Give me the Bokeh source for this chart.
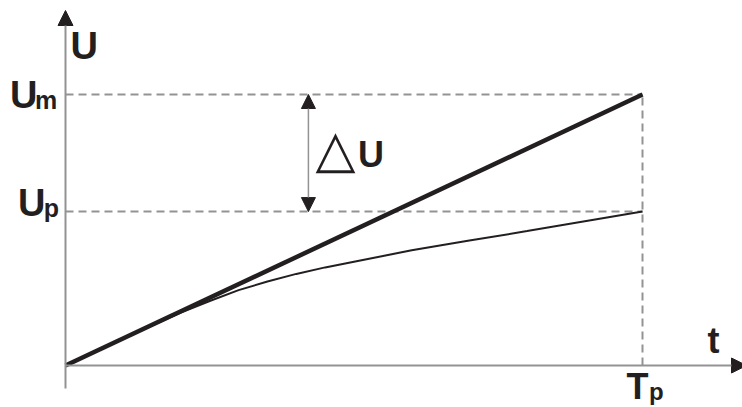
from bokeh.plotting import figure
from bokeh.models import Range1d, Arrow, NormalHead
from bokeh.core.properties import value
from bokeh.embed import file_html
from bokeh.resources import INLINE

# ---- data (arbitrary units: Tp = 10, Um = 10) ----
Tp = 10.0
Um = 10.0
Up = 5.68
t_line = [0.0, Tp]
u_line = [0.0, Um]
t_curve = [0, 1, 2, 2.5, 3, 3.5, 4, 4.5, 5, 6, 7, 8, 9, 10]
u_curve = [0, 1.0, 1.95, 2.38, 2.78, 3.10, 3.38, 3.62, 3.83, 4.25, 4.61, 4.96, 5.32, 5.68]
t_delta = 4.21  # position of the Delta U arrow

# ---- layout (screen mapping) ----
W, H = 742, 407
SX = 57.7   # px per t unit
SY = 27.1   # px per U unit
X0, Y0 = 65, 365  # canvas px of origin
x_range = Range1d(-X0 / SX, (W - X0) / SX)
y_range = Range1d(-(H - Y0) / SY, Y0 / SY)

INK = "#231f20"
GRAY = "#939393"
FONT = value("Liberation Sans")

p = figure(width=W, height=H, x_range=x_range, y_range=y_range,
           output_backend="svg", toolbar_location=None, min_border=0,
           x_axis_location=None, y_axis_location=None)
p.grid.visible = False
p.outline_line_color = None
p.background_fill_color = "white"

# axes with arrows
p.add_layout(Arrow(x_start=0, y_start=-23 / SY, x_end=0, y_end=(Y0 - 10) / SY,
                   line_color=GRAY, line_width=2,
                   end=NormalHead(size=15, fill_color=INK, line_color=INK, line_width=1)))
p.add_layout(Arrow(x_start=0, y_start=0, x_end=(W - X0 + 4) / SX, y_end=0,
                   line_color=GRAY, line_width=2,
                   end=NormalHead(size=15, fill_color=INK, line_color=INK, line_width=1)))

# dashed guides
p.line([0, Tp], [Um, Um], line_color=GRAY, line_width=2, line_dash="8 5")
p.line([0, Tp], [Up, Up], line_color=GRAY, line_width=2, line_dash="8 5")
p.line([Tp, Tp], [0, Um], line_color=GRAY, line_width=2, line_dash="8 5")

# curves
p.line(t_curve, u_curve, line_color=INK, line_width=2)
p.line(t_line, u_line, line_color=INK, line_width=4.5)

# delta U double arrow
p.add_layout(Arrow(x_start=t_delta, y_start=Up, x_end=t_delta, y_end=Um,
                   line_color=GRAY, line_width=1.5,
                   start=NormalHead(size=14, fill_color=INK, line_color=INK, line_width=1),
                   end=NormalHead(size=14, fill_color=INK, line_color=INK, line_width=1)))

def label(x, y, txt, size, dx, dy, font=FONT, style="bold"):
    dy = dy - 0.35 * size
    p.text(x=[x], y=[y], text=[txt], text_font=font, text_font_style=style,
           text_font_size=f"{size}px", text_color=INK, x_offset=dx, y_offset=dy,
           text_align="left", text_baseline="alphabetic")

label(0, Um, "U", 38, 5, -35)          # axis title
label(0, Um, "U", 38, -55.5, 14)       # Um
label(0, Um, "m", 25, -30.5, 14)
label(0, Up, "U", 38, -47.5, 5)        # Up
label(0, Up, "p", 25, -21.7, 5)
label(Tp, 0, "t", 36, 65, -12)         # t axis title
label(Tp, 0, "T", 36, -16, 34)         # Tp
label(Tp, 0, "p", 24, 6.5, 34)
label(t_delta, Um, "\u25b3", 52, 7, 73, font=value("DejaVu Sans"), style="normal")
label(t_delta, Um, "U", 36, 49.5, 73)

open("out.html", "w").write(file_html(p, INLINE))
